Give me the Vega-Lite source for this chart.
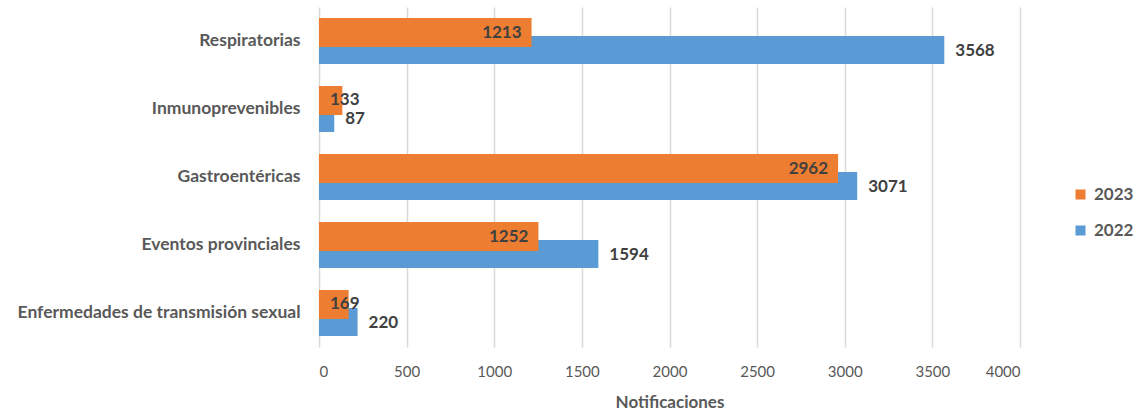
{
  "$schema": "https://vega.github.io/schema/vega-lite/v6.json",
  "width": 701,
  "height": 340,
  "autosize": {"type": "none"},
  "padding": {"left": 319, "top": 7, "right": 117, "bottom": 67},
  "background": "white",
  "config": {"view": {"stroke": null}, "font": "Lato"},
  "data": {"values": [
    {"cat": "Respiratorias", "year": "2023", "value": 1213},
    {"cat": "Respiratorias", "year": "2022", "value": 3568},
    {"cat": "Inmunoprevenibles", "year": "2023", "value": 133},
    {"cat": "Inmunoprevenibles", "year": "2022", "value": 87},
    {"cat": "Gastroentéricas", "year": "2023", "value": 2962},
    {"cat": "Gastroentéricas", "year": "2022", "value": 3071},
    {"cat": "Eventos provinciales", "year": "2023", "value": 1252},
    {"cat": "Eventos provinciales", "year": "2022", "value": 1594},
    {"cat": "Enfermedades de transmisión sexual", "year": "2023", "value": 169},
    {"cat": "Enfermedades de transmisión sexual", "year": "2022", "value": 220}
  ]},
  "encoding": {
    "y": {
      "field": "cat", "type": "nominal",
      "sort": ["Respiratorias", "Inmunoprevenibles", "Gastroentéricas", "Eventos provinciales", "Enfermedades de transmisión sexual"],
      "scale": {"paddingInner": 0, "paddingOuter": 0},
      "axis": {"title": null, "domain": false, "ticks": false, "labelPadding": 19, "labelFont": "Lato", "labelFontSize": 17.5, "labelFontWeight": "bold", "labelColor": "#595959", "labelLimit": 400}
    },
    "x": {
      "field": "value", "type": "quantitative",
      "scale": {"domain": [0, 4000], "nice": false},
      "axis": {"title": "Notificaciones", "format": "d", "values": [0, 500, 1000, 1500, 2000, 2500, 3000, 3500, 4000], "domain": false, "ticks": false, "grid": true, "gridColor": "#d9d9d9", "gridWidth": 1.5, "labelPadding": 17, "labelFont": "Lato", "labelFontSize": 15, "labelColor": "#595959", "titleFont": "Lato", "titleFontSize": 17, "titleFontWeight": "bold", "titleColor": "#595959", "titlePadding": 15}
    }
  },
  "layer": [
    {
      "transform": [{"filter": "datum.year == '2022'"}],
      "mark": {"type": "bar", "height": 28, "yOffset": 9},
      "encoding": {
        "color": {"field": "year", "type": "nominal", "scale": {"domain": ["2023", "2022"], "range": ["#ED7D31", "#5B9BD5"]},
          "legend": {"orient": "none", "legendX": 753, "legendY": 179, "title": null, "symbolType": "square", "symbolSize": 100, "symbolStrokeWidth": 0, "labelFont": "Lato", "labelFontSize": 17, "labelFontWeight": "bold", "labelColor": "#595959", "labelOffset": 5, "rowPadding": 18}}
      }
    },
    {
      "transform": [{"filter": "datum.year == '2023'"}],
      "mark": {"type": "bar", "height": 29, "yOffset": -8.5},
      "encoding": {
        "color": {"field": "year", "type": "nominal"}
      }
    },
    {
      "transform": [{"filter": "datum.year == '2022'"}],
      "mark": {"type": "text", "align": "left", "baseline": "middle", "dx": 11, "yOffset": 9.5, "font": "Lato", "fontSize": 17, "fontWeight": "bold", "color": "#404040"},
      "encoding": {"text": {"field": "value", "type": "quantitative"}}
    },
    {
      "transform": [{"filter": "datum.year == '2023' && datum.value >= 400"}],
      "mark": {"type": "text", "align": "right", "baseline": "middle", "dx": -10, "yOffset": -8.5, "font": "Lato", "fontSize": 17, "fontWeight": "bold", "color": "#404040"},
      "encoding": {"text": {"field": "value", "type": "quantitative"}}
    },
    {
      "transform": [{"filter": "datum.year == '2023' && datum.value < 400"}],
      "mark": {"type": "text", "align": "left", "baseline": "middle", "dx": 11, "yOffset": -9, "font": "Lato", "fontSize": 17, "fontWeight": "bold", "color": "#404040"},
      "encoding": {
        "x": {"datum": 0, "type": "quantitative"},
        "text": {"field": "value", "type": "quantitative"}
      }
    }
  ]
}
